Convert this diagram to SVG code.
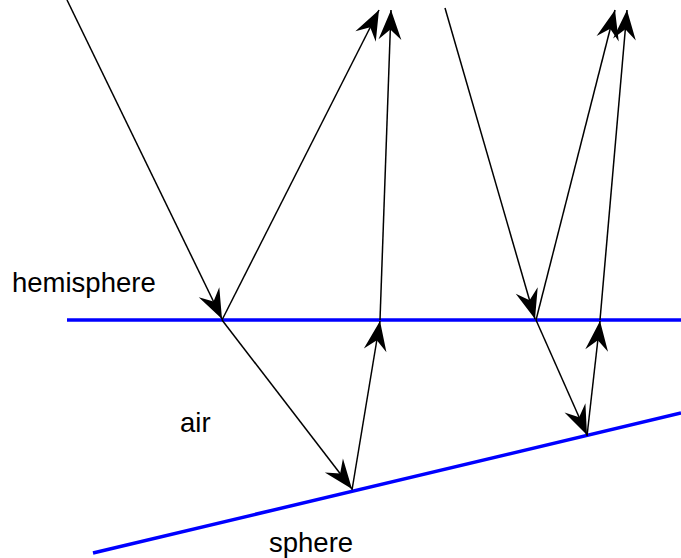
<svg xmlns="http://www.w3.org/2000/svg" width="681" height="558" viewBox="0 0 681 558">
<style>
.ray{stroke:#000;stroke-width:1.5;fill:none;marker-end:url(#ah)}
.surf{stroke:#0000ff;stroke-width:3.5;fill:none}
.lbl{font-family:"Liberation Sans",Arial,sans-serif;font-size:27.5px;fill:#000}
</style>
<defs>
<marker id="ah" markerUnits="userSpaceOnUse" markerWidth="40" markerHeight="40" viewBox="-30 -15 35 30" refX="0" refY="0" orient="auto">
<path d="M0,0 L-26,-10 L-17,0 L-26,10 Z" fill="#000"/>
</marker>
</defs>
<g id="surfaces">
<line id="hemisphere-line" class="surf" x1="67" y1="320" x2="681" y2="320"/>
<line id="sphere-line" class="surf" x1="93" y1="553" x2="681" y2="413"/>
</g>
<g id="connectors">
<line class="ray" x1="67" y1="0" x2="222" y2="319"/>
<line class="ray" x1="222" y1="320" x2="379" y2="10"/>
<line class="ray" x1="222" y1="320" x2="352" y2="489"/>
<line class="ray" x1="352" y1="490" x2="380" y2="321"/>
<line class="ray" x1="380" y1="320" x2="391" y2="10"/>
<line class="ray" x1="445" y1="8" x2="535" y2="319"/>
<line class="ray" x1="536" y1="320" x2="615" y2="10"/>
<line class="ray" x1="536" y1="320" x2="587" y2="435"/>
<line class="ray" x1="587" y1="436" x2="600" y2="321"/>
<line class="ray" x1="600" y1="320" x2="627" y2="10"/>
</g>
<g id="labels">
<text id="hemisphere" class="lbl" x="12" y="292">hemisphere</text>
<text id="air" class="lbl" x="180" y="432">air</text>
<text id="sphere" class="lbl" x="269" y="552">sphere</text>
</g>
</svg>
